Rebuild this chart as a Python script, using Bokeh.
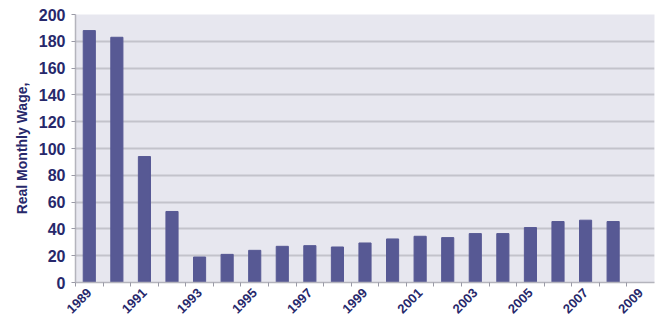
from bokeh.plotting import figure
from bokeh.models import Range1d, FixedTicker, ColumnDataSource
from bokeh.embed import file_html
from bokeh.resources import INLINE
import math

# Real monthly wage by year
years = list(range(1989, 2009))
wages = [188, 183, 94, 53, 19, 21, 24, 27, 27.5, 26.5, 29.5, 32.5, 34.5, 33.5,
         36.5, 36.5, 41, 45.5, 46.5, 45.5]
tick_years = list(range(1989, 2010, 2))
y_ticks = list(range(0, 201, 20))

navy = "#27286b"
bar_color = "#575994"

src = ColumnDataSource(dict(year=years, wage=wages))

p = figure(width=657, height=320, output_backend="svg", toolbar_location=None,
           x_range=Range1d(1988.5, 2009.5), y_range=Range1d(0, 200),
           min_border_left=75, min_border_right=3, min_border_top=14,
           min_border_bottom=37)

p.vbar(x="year", top="wage", width=0.44, source=src, color=bar_color)

p.background_fill_color = "#e7e7ef"
p.border_fill_color = "white"
p.outline_line_color = None

# x axis: slanted year labels on odd years, small marks between years
p.xaxis.ticker = FixedTicker(ticks=tick_years,
                             minor_ticks=[y + 0.5 for y in range(1988, 2009)])
p.xaxis.major_label_orientation = math.pi / 4
p.xaxis.major_tick_line_color = None
p.xaxis.major_tick_out = 0
p.xaxis.major_tick_in = 0
p.xaxis.minor_tick_in = 0
p.xaxis.minor_tick_out = 4
p.xaxis.minor_tick_line_color = "#9a9aa6"
p.xaxis.axis_line_color = "#b4b4bc"
p.xaxis.axis_line_width = 1.5
p.xaxis.major_label_text_font = "Liberation Sans"
p.xaxis.major_label_text_font_style = "bold"
p.xaxis.major_label_text_font_size = "13px"
p.xaxis.major_label_text_color = navy
p.xaxis.major_label_standoff = 4

p.yaxis.ticker = FixedTicker(ticks=y_ticks)
p.yaxis.axis_label = "Real Monthly Wage,"
p.yaxis.axis_label_text_font = "Liberation Sans"
p.yaxis.axis_label_text_font_style = "bold"
p.yaxis.axis_label_text_font_size = "14px"
p.yaxis.axis_label_text_color = navy
p.yaxis.axis_label_standoff = 6
p.yaxis.major_label_text_font = "Liberation Sans"
p.yaxis.major_label_text_font_style = "bold"
p.yaxis.major_label_text_font_size = "16px"
p.yaxis.major_label_text_color = navy
p.yaxis.major_label_standoff = 6
p.yaxis.major_tick_in = 0
p.yaxis.major_tick_out = 4
p.yaxis.major_tick_line_color = "#9a9aa6"
p.yaxis.minor_tick_line_color = None
p.yaxis.axis_line_color = "#b4b4bc"
p.yaxis.axis_line_width = 1.5

p.xgrid.grid_line_color = None
p.ygrid.grid_line_color = "#c3c3cb"
p.ygrid.grid_line_width = 2

open("out.html", "w").write(file_html(p, INLINE))
